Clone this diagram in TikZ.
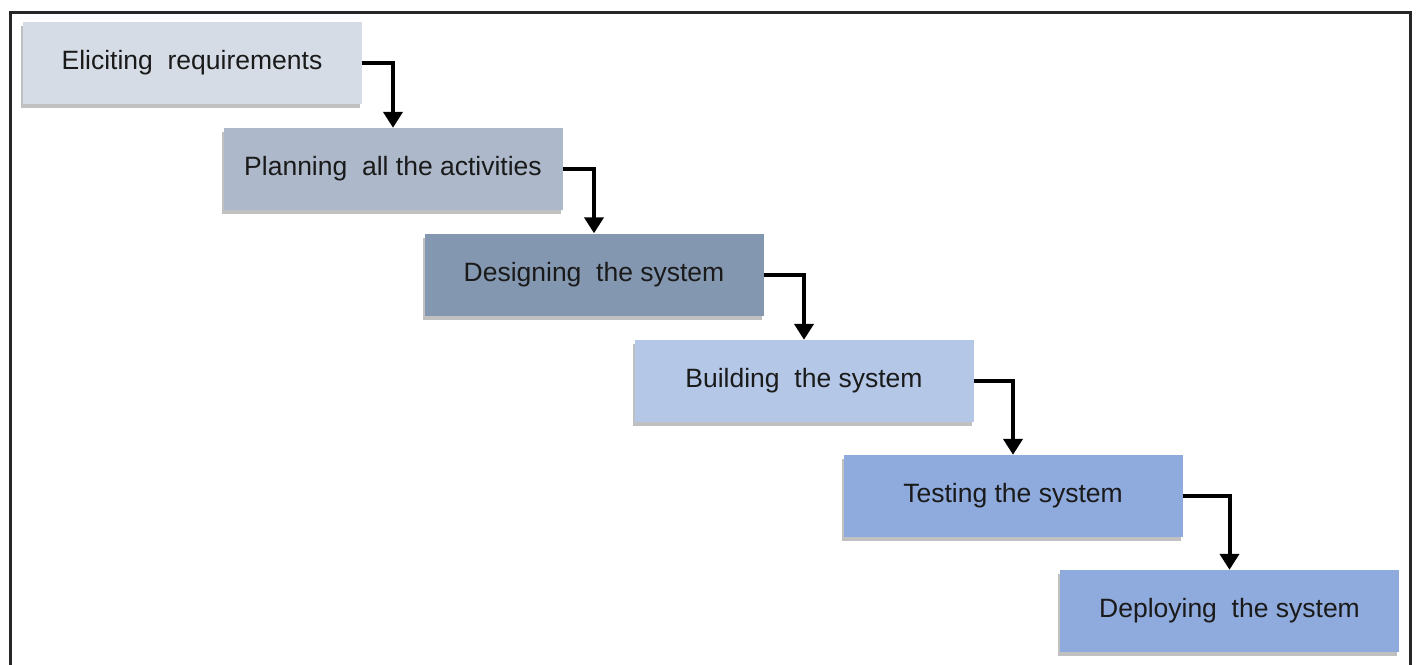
\documentclass[tikz,border=0pt]{standalone}
\usepackage{fontspec}
\setmainfont{Liberation Sans}
\usetikzlibrary{shadows,arrows.meta}
\definecolor{cA}{HTML}{D6DCE5}
\definecolor{cB}{HTML}{ADB9CA}
\definecolor{cC}{HTML}{8497B0}
\definecolor{cD}{HTML}{B4C7E7}
\definecolor{cE}{HTML}{8FAADC}
\definecolor{cF}{HTML}{8FAADC}
\definecolor{txt}{HTML}{1A1A1A}
\tikzset{
  x=1pt,y=-1pt,
  stage/.style={draw=none, minimum width=339pt, minimum height=82pt, inner sep=0pt,
    font=\fontsize{26.5}{30}\selectfont, text=txt,
    drop shadow={shadow xshift=-2pt, shadow yshift=-4pt, opacity=0.35, fill=black!70}},
  flow/.style={line width=4pt, -{Triangle[length=16pt,width=19pt]}},
}
\begin{document}
\begin{tikzpicture}
\useasboundingbox (0,0) rectangle (1416,664);
\fill[white] (0,0) rectangle (1416,664);
\draw[line width=3pt, draw=black!85] (10,680) -- (10,12) -- (1410,12) -- (1410,680);
\node[stage, fill=cA] (s1) at (192,62.5) {Eliciting\ \ requirements};
\node[stage, fill=cB] (s2) at (393,169) {Planning\ \ all the activities};
\node[stage, fill=cC] (s3) at (594,274.5) {Designing\ \ the system};
\node[stage, fill=cD] (s4) at (804,381) {Building\ \ the system};
\node[stage, fill=cE] (s5) at (1013,496) {Testing the system};
\node[stage, fill=cF] (s6) at (1229.5,611) {Deploying\ \ the system};
\draw[flow] (s1.east) -| (s2.north);
\draw[flow] (s2.east) -| (s3.north);
\draw[flow] (s3.east) -| (s4.north);
\draw[flow] (s4.east) -| (s5.north);
\draw[flow] (s5.east) -| (s6.north);
\end{tikzpicture}
\end{document}
